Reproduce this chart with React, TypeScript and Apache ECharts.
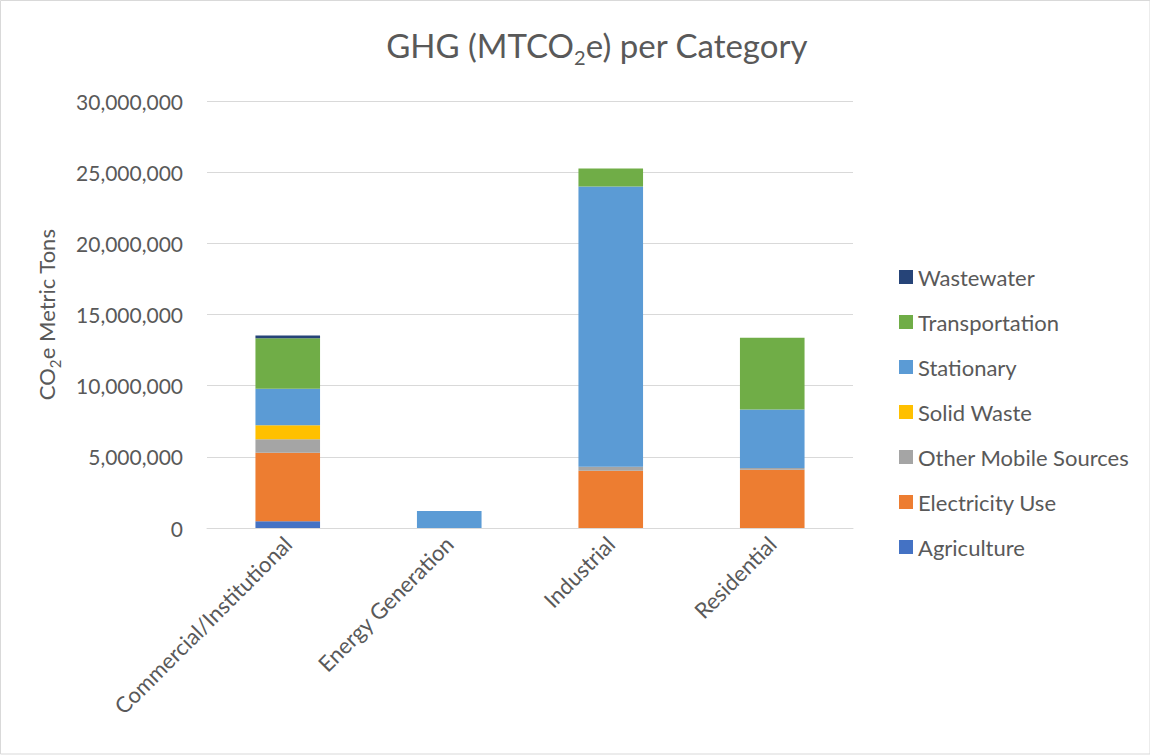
import React, { useEffect, useRef } from "react";
import * as echarts from "echarts";

const categories = ["Commercial/Institutional", "Energy Generation", "Industrial", "Residential"];
const seriesNames = [
  "Agriculture",
  "Electricity Use",
  "Other Mobile Sources",
  "Solid Waste",
  "Stationary",
  "Transportation",
  "Wastewater",
];
const agriculture = [470000, 0, 0, 0];
const electricityUse = [4810000, 0, 4020000, 4090000];
const otherMobile = [960000, 0, 280000, 120000];
const solidWaste = [980000, 0, 0, 0];
const stationary = [2570000, 1190000, 19690000, 4110000];
const transportation = [3550000, 0, 1260000, 5050000];
const wastewater = [190000, 0, 0, 0];
const colors = ["#4472C4", "#ED7D31", "#A5A5A5", "#FFC000", "#5B9BD5", "#70AD47", "#264478"];
const yTicks = [0, 5000000, 10000000, 15000000, 20000000, 25000000, 30000000];

const FONT = "Lato";
const TXT = "#595959";

export default function App() {
  const ref = useRef<HTMLDivElement>(null);
  useEffect(() => {
    document.body.style.margin = "0";
    const chart = echarts.init(ref.current!, null, { renderer: "svg" });
    const values = [agriculture, electricityUse, otherMobile, solidWaste, stationary, transportation, wastewater];
    chart.setOption({
      animation: false,
      color: colors,
      textStyle: { fontFamily: FONT },
      title: {
        text: "GHG (MTCO{sub|2}e) per Category",
        left: 592,
        textAlign: "center",
        top: 18,
        textStyle: {
          fontFamily: FONT,
          fontSize: 33,
          fontWeight: "normal",
          color: TXT,
          rich: {
            sub: { fontFamily: FONT, fontSize: 20, color: TXT, padding: [24, 0, 0, 0] },
          },
        },
      },
      legend: {
        orient: "vertical",
        left: 894,
        top: 261,
        itemWidth: 14,
        itemHeight: 14,
        itemGap: 23,
        icon: "rect",
        data: seriesNames.slice().reverse(),
        textStyle: { fontFamily: FONT, fontSize: 22, color: TXT, lineHeight: 22 },
      },
      graphic: [
        {
          type: "rect",
          shape: { x: 0.5, y: 0.5, width: 1149.5, height: 753.5 },
          style: { fill: "none", stroke: "#d9d9d9", lineWidth: 1 },
          silent: true,
        },
      ],
      grid: { left: 207, right: 297, top: 101, bottom: 228, containLabel: false },
      xAxis: {
        type: "category",
        data: categories,
        axisTick: { show: false },
        axisLine: { lineStyle: { color: "#d9d9d9", width: 1 } },
        axisLabel: {
          rotate: 45,
          interval: 0,
          margin: 12,
          fontFamily: FONT,
          fontSize: 22,
          color: TXT,
        },
      },
      yAxis: {
        type: "value",
        min: 0,
        max: 30000000,
        interval: 5000000,
        name: "CO{sub|2}e Metric Tons",
        nameLocation: "middle",
        nameGap: 145,
        nameTextStyle: {
          fontFamily: FONT,
          fontSize: 22,
          color: TXT,
          rich: { sub: { fontFamily: FONT, fontSize: 15, color: TXT, padding: [16, 0, 0, 0] } },
        },
        axisLine: { show: false },
        axisTick: { show: false },
        splitLine: { lineStyle: { color: "#d9d9d9", width: 1 } },
        axisLabel: {
          margin: 24,
          fontFamily: FONT,
          fontSize: 21,
          color: TXT,
          formatter: (v: number) => (yTicks.includes(v) ? v.toLocaleString("en-US") : ""),
        },
      },
      series: seriesNames.map((name, i) => ({
        name,
        type: "bar",
        stack: "total",
        barWidth: "40%",
        data: values[i],
        itemStyle: { color: colors[i] },
      })),
    });
    return () => chart.dispose();
  }, []);
  return <div ref={ref} style={{ width: 1150, height: 756 }} />;
}
